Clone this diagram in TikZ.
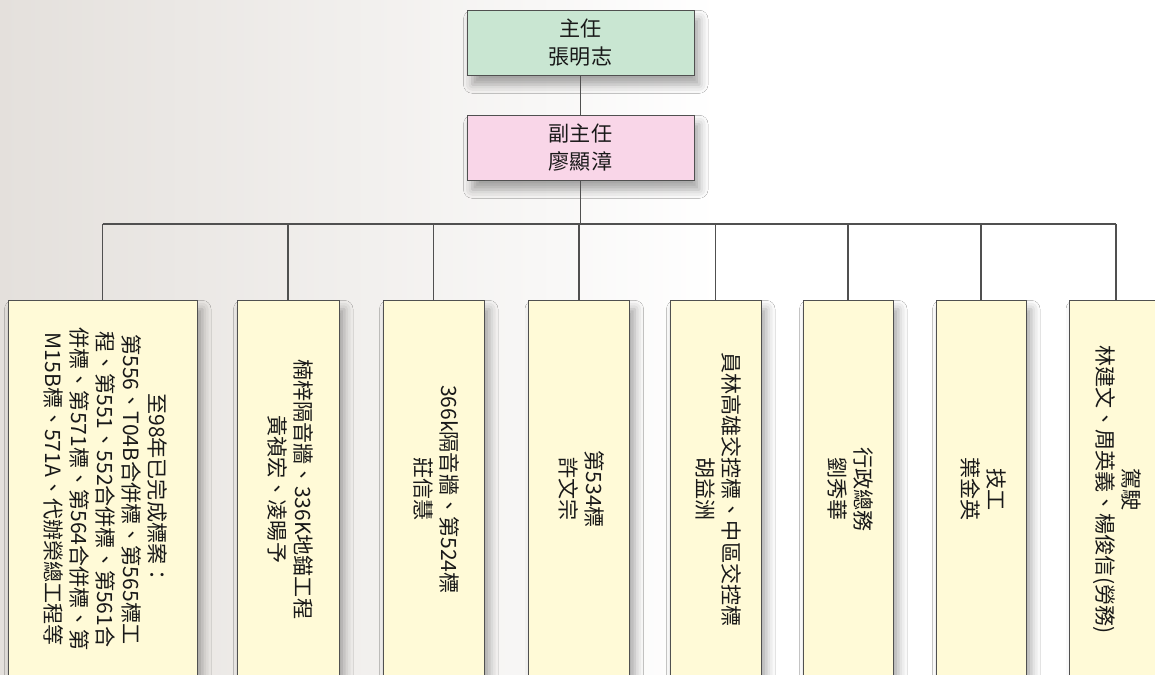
\documentclass[tikz,border=0pt]{standalone}
\usepackage{fontspec}
\setmainfont{Noto Sans CJK TC}
\newfontfamily\cjkv[Vertical=RotatedGlyphs]{Noto Sans CJK TC}
\usetikzlibrary{shadows.blur}
\definecolor{headgreen}{RGB}{201,230,210}
\definecolor{vicepink}{RGB}{249,214,232}
\definecolor{unityellow}{RGB}{255,250,215}
\definecolor{framegray}{RGB}{80,80,80}
\definecolor{cloudgray}{RGB}{228,224,220}
\newcommand{\vtxt}[1]{\rotatebox{-90}{\cjkv\fontsize{12}{14.8}\selectfont
  \begin{tabular}{@{}c@{}}#1\end{tabular}}}

\begin{document}
\begin{tikzpicture}[x=0.02cm,y=-0.02cm]
    \tikzstyle{every node} = [text=black!90]
    \tikzstyle{boxshadow} = [blur shadow={shadow xshift=3pt, shadow yshift=-5pt, shadow blur radius=5pt, shadow opacity=35}]
    \tikzstyle{headbox} = [draw=framegray, fill=headgreen, boxshadow, minimum width=4.54cm, minimum height=1.31cm, align=center, font=\fontsize{12}{16}\selectfont]
    \tikzstyle{unitbox} = [draw=framegray, fill=unityellow, boxshadow, minimum height=7.56cm, inner sep=0pt]
    \tikzstyle{link} = [draw=framegray, line width=0.6pt]
    % background
    \fill[white] (0,0) rectangle (1155,675);
    \shade[left color=cloudgray, right color=white] (0,0) rectangle (720,675);
    \clip (0,0) rectangle (1155,675);

    % place nodes
    \node[headbox](director) at (580.5,43){主任\\張明志};
    \node[headbox, fill=vicepink](vice) at (580.5,148){副主任\\廖顯漳};
    \coordinate (bus) at (580.5,224);

    \node[unitbox, minimum width=3.78cm, anchor=north](u1) at (102.5,300){\vtxt{至98年已完成標案：\\第556、T04B合併標、第565標工\\程、第551、552合併標、第561合\\併標、第571標、第564合併標、第\\M15B標、571A、代辦榮總工程等}};
    \node[unitbox, minimum width=2.04cm, anchor=north](u2) at (288,300){\vtxt{楠梓隔音牆、336K地錨工程\\黃禎宏、凌暘予}};
    \node[unitbox, minimum width=2.02cm, anchor=north](u3) at (433.5,300){\vtxt{366k隔音牆、第524標\\莊信慧}};
    \node[unitbox, minimum width=2.02cm, anchor=north](u4) at (579,300){\vtxt{第534標\\許文宗}};
    \node[unitbox, minimum width=1.82cm, anchor=north](u5) at (715.5,300){\vtxt{員林高雄交控標、中區交控標\\胡益洲}};
    \node[unitbox, minimum width=1.80cm, anchor=north](u6) at (848,300){\vtxt{行政總務\\劉秀華}};
    \node[unitbox, minimum width=1.80cm, anchor=north](u7) at (981,300){\vtxt{技工\\葉金英}};
    \node[unitbox, minimum width=1.86cm, anchor=north](u8) at (1116,300){\vtxt{駕駛\\林建文、周英義、楊俊信(勞務)}};

    % Connections
    \draw[link] (director) -- (vice);
    \draw[link] (vice) -- (bus);
    \draw[link] (bus -| u1.north) -- (bus -| u8.north);
    \foreach \i in {1,...,8}
      \draw[link] (bus -| u\i.north) -- (u\i.north);

\end{tikzpicture}
\end{document}
